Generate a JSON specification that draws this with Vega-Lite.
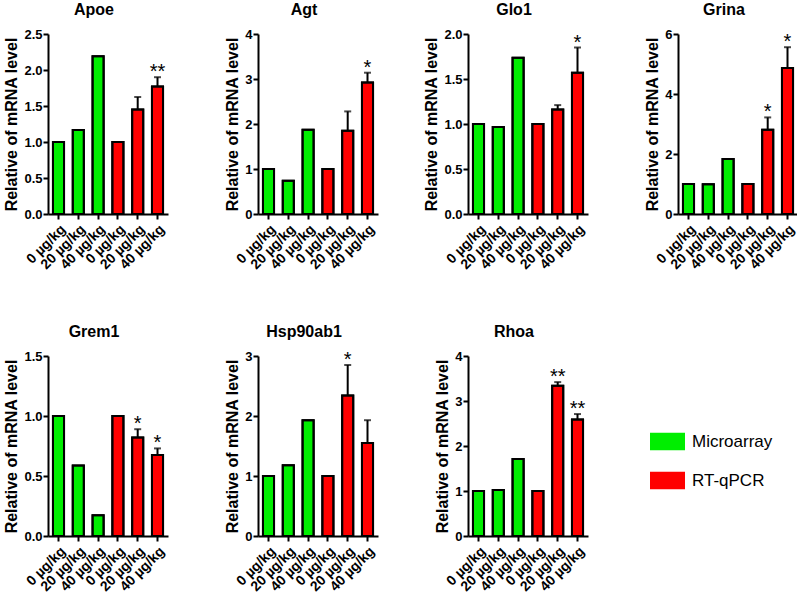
{
  "$schema": "https://vega.github.io/schema/vega-lite/v6.json",
  "padding": {"left": 3, "top": 2, "right": 0, "bottom": 0},
  "data": {"values": [
    {"gene": "Apoe", "method": "Microarray", "cond": "M-0 µg/kg", "value": 1.0, "upper": null, "sig": ""},
    {"gene": "Apoe", "method": "Microarray", "cond": "M-20 µg/kg", "value": 1.165, "upper": null, "sig": ""},
    {"gene": "Apoe", "method": "Microarray", "cond": "M-40 µg/kg", "value": 2.19, "upper": null, "sig": ""},
    {"gene": "Apoe", "method": "RT-qPCR", "cond": "R-0 µg/kg", "value": 1.0, "upper": null, "sig": ""},
    {"gene": "Apoe", "method": "RT-qPCR", "cond": "R-20 µg/kg", "value": 1.45, "upper": 1.625, "sig": ""},
    {"gene": "Apoe", "method": "RT-qPCR", "cond": "R-40 µg/kg", "value": 1.77, "upper": 1.9, "sig": "**"},
    {"gene": "Agt", "method": "Microarray", "cond": "M-0 µg/kg", "value": 1.0, "upper": null, "sig": ""},
    {"gene": "Agt", "method": "Microarray", "cond": "M-20 µg/kg", "value": 0.74, "upper": null, "sig": ""},
    {"gene": "Agt", "method": "Microarray", "cond": "M-40 µg/kg", "value": 1.87, "upper": null, "sig": ""},
    {"gene": "Agt", "method": "RT-qPCR", "cond": "R-0 µg/kg", "value": 1.0, "upper": null, "sig": ""},
    {"gene": "Agt", "method": "RT-qPCR", "cond": "R-20 µg/kg", "value": 1.85, "upper": 2.28, "sig": ""},
    {"gene": "Agt", "method": "RT-qPCR", "cond": "R-40 µg/kg", "value": 2.92, "upper": 3.14, "sig": "*"},
    {"gene": "Glo1", "method": "Microarray", "cond": "M-0 µg/kg", "value": 1.0, "upper": null, "sig": ""},
    {"gene": "Glo1", "method": "Microarray", "cond": "M-20 µg/kg", "value": 0.967, "upper": null, "sig": ""},
    {"gene": "Glo1", "method": "Microarray", "cond": "M-40 µg/kg", "value": 1.736, "upper": null, "sig": ""},
    {"gene": "Glo1", "method": "RT-qPCR", "cond": "R-0 µg/kg", "value": 1.0, "upper": null, "sig": ""},
    {"gene": "Glo1", "method": "RT-qPCR", "cond": "R-20 µg/kg", "value": 1.16, "upper": 1.21, "sig": ""},
    {"gene": "Glo1", "method": "RT-qPCR", "cond": "R-40 µg/kg", "value": 1.57, "upper": 1.85, "sig": "*"},
    {"gene": "Grina", "method": "Microarray", "cond": "M-0 µg/kg", "value": 1.0, "upper": null, "sig": ""},
    {"gene": "Grina", "method": "Microarray", "cond": "M-20 µg/kg", "value": 0.99, "upper": null, "sig": ""},
    {"gene": "Grina", "method": "Microarray", "cond": "M-40 µg/kg", "value": 1.83, "upper": null, "sig": ""},
    {"gene": "Grina", "method": "RT-qPCR", "cond": "R-0 µg/kg", "value": 1.0, "upper": null, "sig": ""},
    {"gene": "Grina", "method": "RT-qPCR", "cond": "R-20 µg/kg", "value": 2.81, "upper": 3.22, "sig": "*"},
    {"gene": "Grina", "method": "RT-qPCR", "cond": "R-40 µg/kg", "value": 4.87, "upper": 5.56, "sig": "*"},
    {"gene": "Grem1", "method": "Microarray", "cond": "M-0 µg/kg", "value": 1.0, "upper": null, "sig": ""},
    {"gene": "Grem1", "method": "Microarray", "cond": "M-20 µg/kg", "value": 0.588, "upper": null, "sig": ""},
    {"gene": "Grem1", "method": "Microarray", "cond": "M-40 µg/kg", "value": 0.173, "upper": null, "sig": ""},
    {"gene": "Grem1", "method": "RT-qPCR", "cond": "R-0 µg/kg", "value": 1.0, "upper": null, "sig": ""},
    {"gene": "Grem1", "method": "RT-qPCR", "cond": "R-20 µg/kg", "value": 0.82, "upper": 0.89, "sig": "*"},
    {"gene": "Grem1", "method": "RT-qPCR", "cond": "R-40 µg/kg", "value": 0.675, "upper": 0.73, "sig": "*"},
    {"gene": "Hsp90ab1", "method": "Microarray", "cond": "M-0 µg/kg", "value": 1.0, "upper": null, "sig": ""},
    {"gene": "Hsp90ab1", "method": "Microarray", "cond": "M-20 µg/kg", "value": 1.18, "upper": null, "sig": ""},
    {"gene": "Hsp90ab1", "method": "Microarray", "cond": "M-40 µg/kg", "value": 1.93, "upper": null, "sig": ""},
    {"gene": "Hsp90ab1", "method": "RT-qPCR", "cond": "R-0 µg/kg", "value": 1.0, "upper": null, "sig": ""},
    {"gene": "Hsp90ab1", "method": "RT-qPCR", "cond": "R-20 µg/kg", "value": 2.34, "upper": 2.85, "sig": "*"},
    {"gene": "Hsp90ab1", "method": "RT-qPCR", "cond": "R-40 µg/kg", "value": 1.55, "upper": 1.93, "sig": ""},
    {"gene": "Rhoa", "method": "Microarray", "cond": "M-0 µg/kg", "value": 1.0, "upper": null, "sig": ""},
    {"gene": "Rhoa", "method": "Microarray", "cond": "M-20 µg/kg", "value": 1.02, "upper": null, "sig": ""},
    {"gene": "Rhoa", "method": "Microarray", "cond": "M-40 µg/kg", "value": 1.71, "upper": null, "sig": ""},
    {"gene": "Rhoa", "method": "RT-qPCR", "cond": "R-0 µg/kg", "value": 1.0, "upper": null, "sig": ""},
    {"gene": "Rhoa", "method": "RT-qPCR", "cond": "R-20 µg/kg", "value": 3.34, "upper": 3.42, "sig": "**"},
    {"gene": "Rhoa", "method": "RT-qPCR", "cond": "R-40 µg/kg", "value": 2.59, "upper": 2.71, "sig": "**"}
  ]},
  "columns": 4,
  "spacing": {"row": 142, "column": 90},
  "bounds": "flush",
  "resolve": {"scale": {"fill": "shared"}},
  "concat": [
    {"title": "Apoe", "width": 120, "height": 180,
     "transform": [{"filter": "datum.gene === 'Apoe'"}],
     "encoding": {"x": {"field": "cond", "type": "nominal", "sort": ["M-0 µg/kg", "M-20 µg/kg", "M-40 µg/kg", "R-0 µg/kg", "R-20 µg/kg", "R-40 µg/kg"], "scale": {"paddingInner": 0.44, "paddingOuter": 0.25}, "axis": {"title": null, "labelExpr": "substring(datum.value, 2)"}}},
     "layer": [
       {"mark": {"type": "bar", "filled": true, "stroke": "black", "strokeWidth": 2},
        "encoding": {"y": {"field": "value", "type": "quantitative", "title": "Relative of mRNA level", "scale": {"domain": [0, 2.5], "nice": false}, "axis": {"values": [0, 0.5, 1, 1.5, 2, 2.5], "format": ".1f"}},
                     "fill": {"field": "method", "type": "nominal", "title": null, "scale": {"domain": ["Microarray", "RT-qPCR"], "range": ["#00ee00", "#ff0000"]}}}},
       {"mark": {"type": "bar", "filled": false, "stroke": "black", "strokeWidth": 2},
        "encoding": {"y": {"field": "value", "type": "quantitative", "title": "Relative of mRNA level", "scale": {"domain": [0, 2.5], "nice": false}, "axis": {"values": [0, 0.5, 1, 1.5, 2, 2.5], "format": ".1f"}}}},
       {"transform": [{"filter": "isValid(datum.upper)"}], "mark": {"type": "rule", "color": "black", "strokeWidth": 2},
        "encoding": {"y": {"field": "value", "type": "quantitative", "title": "Relative of mRNA level", "scale": {"domain": [0, 2.5], "nice": false}, "axis": {"values": [0, 0.5, 1, 1.5, 2, 2.5], "format": ".1f"}}, "y2": {"field": "upper"}}},
       {"transform": [{"filter": "isValid(datum.upper)"}], "mark": {"type": "tick", "color": "black", "thickness": 2, "size": 7},
        "encoding": {"y": {"field": "upper", "type": "quantitative", "title": "Relative of mRNA level", "scale": {"domain": [0, 2.5], "nice": false}, "axis": {"values": [0, 0.5, 1, 1.5, 2, 2.5], "format": ".1f"}}}},
       {"transform": [{"filter": "datum.sig !== ''"}], "mark": {"type": "text", "fontSize": 20, "baseline": "alphabetic", "dy": 1, "color": "black"},
        "encoding": {"y": {"field": "upper", "type": "quantitative", "title": "Relative of mRNA level", "scale": {"domain": [0, 2.5], "nice": false}, "axis": {"values": [0, 0.5, 1, 1.5, 2, 2.5], "format": ".1f"}}, "text": {"field": "sig"}}}
     ]},
    {"title": "Agt", "width": 120, "height": 180,
     "transform": [{"filter": "datum.gene === 'Agt'"}],
     "encoding": {"x": {"field": "cond", "type": "nominal", "sort": ["M-0 µg/kg", "M-20 µg/kg", "M-40 µg/kg", "R-0 µg/kg", "R-20 µg/kg", "R-40 µg/kg"], "scale": {"paddingInner": 0.44, "paddingOuter": 0.25}, "axis": {"title": null, "labelExpr": "substring(datum.value, 2)"}}},
     "layer": [
       {"mark": {"type": "bar", "filled": true, "stroke": "black", "strokeWidth": 2},
        "encoding": {"y": {"field": "value", "type": "quantitative", "title": "Relative of mRNA level", "scale": {"domain": [0, 4], "nice": false}, "axis": {"values": [0, 1, 2, 3, 4], "format": "d"}},
                     "fill": {"field": "method", "type": "nominal", "title": null, "scale": {"domain": ["Microarray", "RT-qPCR"], "range": ["#00ee00", "#ff0000"]}}}},
       {"mark": {"type": "bar", "filled": false, "stroke": "black", "strokeWidth": 2},
        "encoding": {"y": {"field": "value", "type": "quantitative", "title": "Relative of mRNA level", "scale": {"domain": [0, 4], "nice": false}, "axis": {"values": [0, 1, 2, 3, 4], "format": "d"}}}},
       {"transform": [{"filter": "isValid(datum.upper)"}], "mark": {"type": "rule", "color": "black", "strokeWidth": 2},
        "encoding": {"y": {"field": "value", "type": "quantitative", "title": "Relative of mRNA level", "scale": {"domain": [0, 4], "nice": false}, "axis": {"values": [0, 1, 2, 3, 4], "format": "d"}}, "y2": {"field": "upper"}}},
       {"transform": [{"filter": "isValid(datum.upper)"}], "mark": {"type": "tick", "color": "black", "thickness": 2, "size": 7},
        "encoding": {"y": {"field": "upper", "type": "quantitative", "title": "Relative of mRNA level", "scale": {"domain": [0, 4], "nice": false}, "axis": {"values": [0, 1, 2, 3, 4], "format": "d"}}}},
       {"transform": [{"filter": "datum.sig !== ''"}], "mark": {"type": "text", "fontSize": 20, "baseline": "alphabetic", "dy": 1, "color": "black"},
        "encoding": {"y": {"field": "upper", "type": "quantitative", "title": "Relative of mRNA level", "scale": {"domain": [0, 4], "nice": false}, "axis": {"values": [0, 1, 2, 3, 4], "format": "d"}}, "text": {"field": "sig"}}}
     ]},
    {"title": "Glo1", "width": 120, "height": 180,
     "transform": [{"filter": "datum.gene === 'Glo1'"}],
     "encoding": {"x": {"field": "cond", "type": "nominal", "sort": ["M-0 µg/kg", "M-20 µg/kg", "M-40 µg/kg", "R-0 µg/kg", "R-20 µg/kg", "R-40 µg/kg"], "scale": {"paddingInner": 0.44, "paddingOuter": 0.25}, "axis": {"title": null, "labelExpr": "substring(datum.value, 2)"}}},
     "layer": [
       {"mark": {"type": "bar", "filled": true, "stroke": "black", "strokeWidth": 2},
        "encoding": {"y": {"field": "value", "type": "quantitative", "title": "Relative of mRNA level", "scale": {"domain": [0, 2], "nice": false}, "axis": {"values": [0, 0.5, 1, 1.5, 2], "format": ".1f"}},
                     "fill": {"field": "method", "type": "nominal", "title": null, "scale": {"domain": ["Microarray", "RT-qPCR"], "range": ["#00ee00", "#ff0000"]}}}},
       {"mark": {"type": "bar", "filled": false, "stroke": "black", "strokeWidth": 2},
        "encoding": {"y": {"field": "value", "type": "quantitative", "title": "Relative of mRNA level", "scale": {"domain": [0, 2], "nice": false}, "axis": {"values": [0, 0.5, 1, 1.5, 2], "format": ".1f"}}}},
       {"transform": [{"filter": "isValid(datum.upper)"}], "mark": {"type": "rule", "color": "black", "strokeWidth": 2},
        "encoding": {"y": {"field": "value", "type": "quantitative", "title": "Relative of mRNA level", "scale": {"domain": [0, 2], "nice": false}, "axis": {"values": [0, 0.5, 1, 1.5, 2], "format": ".1f"}}, "y2": {"field": "upper"}}},
       {"transform": [{"filter": "isValid(datum.upper)"}], "mark": {"type": "tick", "color": "black", "thickness": 2, "size": 7},
        "encoding": {"y": {"field": "upper", "type": "quantitative", "title": "Relative of mRNA level", "scale": {"domain": [0, 2], "nice": false}, "axis": {"values": [0, 0.5, 1, 1.5, 2], "format": ".1f"}}}},
       {"transform": [{"filter": "datum.sig !== ''"}], "mark": {"type": "text", "fontSize": 20, "baseline": "alphabetic", "dy": 1, "color": "black"},
        "encoding": {"y": {"field": "upper", "type": "quantitative", "title": "Relative of mRNA level", "scale": {"domain": [0, 2], "nice": false}, "axis": {"values": [0, 0.5, 1, 1.5, 2], "format": ".1f"}}, "text": {"field": "sig"}}}
     ]},
    {"title": "Grina", "width": 120, "height": 180,
     "transform": [{"filter": "datum.gene === 'Grina'"}],
     "encoding": {"x": {"field": "cond", "type": "nominal", "sort": ["M-0 µg/kg", "M-20 µg/kg", "M-40 µg/kg", "R-0 µg/kg", "R-20 µg/kg", "R-40 µg/kg"], "scale": {"paddingInner": 0.44, "paddingOuter": 0.25}, "axis": {"title": null, "labelExpr": "substring(datum.value, 2)"}}},
     "layer": [
       {"mark": {"type": "bar", "filled": true, "stroke": "black", "strokeWidth": 2},
        "encoding": {"y": {"field": "value", "type": "quantitative", "title": "Relative of mRNA level", "scale": {"domain": [0, 6], "nice": false}, "axis": {"values": [0, 2, 4, 6], "format": "d"}},
                     "fill": {"field": "method", "type": "nominal", "title": null, "scale": {"domain": ["Microarray", "RT-qPCR"], "range": ["#00ee00", "#ff0000"]}}}},
       {"mark": {"type": "bar", "filled": false, "stroke": "black", "strokeWidth": 2},
        "encoding": {"y": {"field": "value", "type": "quantitative", "title": "Relative of mRNA level", "scale": {"domain": [0, 6], "nice": false}, "axis": {"values": [0, 2, 4, 6], "format": "d"}}}},
       {"transform": [{"filter": "isValid(datum.upper)"}], "mark": {"type": "rule", "color": "black", "strokeWidth": 2},
        "encoding": {"y": {"field": "value", "type": "quantitative", "title": "Relative of mRNA level", "scale": {"domain": [0, 6], "nice": false}, "axis": {"values": [0, 2, 4, 6], "format": "d"}}, "y2": {"field": "upper"}}},
       {"transform": [{"filter": "isValid(datum.upper)"}], "mark": {"type": "tick", "color": "black", "thickness": 2, "size": 7},
        "encoding": {"y": {"field": "upper", "type": "quantitative", "title": "Relative of mRNA level", "scale": {"domain": [0, 6], "nice": false}, "axis": {"values": [0, 2, 4, 6], "format": "d"}}}},
       {"transform": [{"filter": "datum.sig !== ''"}], "mark": {"type": "text", "fontSize": 20, "baseline": "alphabetic", "dy": 1, "color": "black"},
        "encoding": {"y": {"field": "upper", "type": "quantitative", "title": "Relative of mRNA level", "scale": {"domain": [0, 6], "nice": false}, "axis": {"values": [0, 2, 4, 6], "format": "d"}}, "text": {"field": "sig"}}}
     ]},
    {"title": "Grem1", "width": 120, "height": 180,
     "transform": [{"filter": "datum.gene === 'Grem1'"}],
     "encoding": {"x": {"field": "cond", "type": "nominal", "sort": ["M-0 µg/kg", "M-20 µg/kg", "M-40 µg/kg", "R-0 µg/kg", "R-20 µg/kg", "R-40 µg/kg"], "scale": {"paddingInner": 0.44, "paddingOuter": 0.25}, "axis": {"title": null, "labelExpr": "substring(datum.value, 2)"}}},
     "layer": [
       {"mark": {"type": "bar", "filled": true, "stroke": "black", "strokeWidth": 2},
        "encoding": {"y": {"field": "value", "type": "quantitative", "title": "Relative of mRNA level", "scale": {"domain": [0, 1.5], "nice": false}, "axis": {"values": [0, 0.5, 1, 1.5], "format": ".1f"}},
                     "fill": {"field": "method", "type": "nominal", "title": null, "scale": {"domain": ["Microarray", "RT-qPCR"], "range": ["#00ee00", "#ff0000"]}}}},
       {"mark": {"type": "bar", "filled": false, "stroke": "black", "strokeWidth": 2},
        "encoding": {"y": {"field": "value", "type": "quantitative", "title": "Relative of mRNA level", "scale": {"domain": [0, 1.5], "nice": false}, "axis": {"values": [0, 0.5, 1, 1.5], "format": ".1f"}}}},
       {"transform": [{"filter": "isValid(datum.upper)"}], "mark": {"type": "rule", "color": "black", "strokeWidth": 2},
        "encoding": {"y": {"field": "value", "type": "quantitative", "title": "Relative of mRNA level", "scale": {"domain": [0, 1.5], "nice": false}, "axis": {"values": [0, 0.5, 1, 1.5], "format": ".1f"}}, "y2": {"field": "upper"}}},
       {"transform": [{"filter": "isValid(datum.upper)"}], "mark": {"type": "tick", "color": "black", "thickness": 2, "size": 7},
        "encoding": {"y": {"field": "upper", "type": "quantitative", "title": "Relative of mRNA level", "scale": {"domain": [0, 1.5], "nice": false}, "axis": {"values": [0, 0.5, 1, 1.5], "format": ".1f"}}}},
       {"transform": [{"filter": "datum.sig !== ''"}], "mark": {"type": "text", "fontSize": 20, "baseline": "alphabetic", "dy": 1, "color": "black"},
        "encoding": {"y": {"field": "upper", "type": "quantitative", "title": "Relative of mRNA level", "scale": {"domain": [0, 1.5], "nice": false}, "axis": {"values": [0, 0.5, 1, 1.5], "format": ".1f"}}, "text": {"field": "sig"}}}
     ]},
    {"title": "Hsp90ab1", "width": 120, "height": 180,
     "transform": [{"filter": "datum.gene === 'Hsp90ab1'"}],
     "encoding": {"x": {"field": "cond", "type": "nominal", "sort": ["M-0 µg/kg", "M-20 µg/kg", "M-40 µg/kg", "R-0 µg/kg", "R-20 µg/kg", "R-40 µg/kg"], "scale": {"paddingInner": 0.44, "paddingOuter": 0.25}, "axis": {"title": null, "labelExpr": "substring(datum.value, 2)"}}},
     "layer": [
       {"mark": {"type": "bar", "filled": true, "stroke": "black", "strokeWidth": 2},
        "encoding": {"y": {"field": "value", "type": "quantitative", "title": "Relative of mRNA level", "scale": {"domain": [0, 3], "nice": false}, "axis": {"values": [0, 1, 2, 3], "format": "d"}},
                     "fill": {"field": "method", "type": "nominal", "title": null, "scale": {"domain": ["Microarray", "RT-qPCR"], "range": ["#00ee00", "#ff0000"]}}}},
       {"mark": {"type": "bar", "filled": false, "stroke": "black", "strokeWidth": 2},
        "encoding": {"y": {"field": "value", "type": "quantitative", "title": "Relative of mRNA level", "scale": {"domain": [0, 3], "nice": false}, "axis": {"values": [0, 1, 2, 3], "format": "d"}}}},
       {"transform": [{"filter": "isValid(datum.upper)"}], "mark": {"type": "rule", "color": "black", "strokeWidth": 2},
        "encoding": {"y": {"field": "value", "type": "quantitative", "title": "Relative of mRNA level", "scale": {"domain": [0, 3], "nice": false}, "axis": {"values": [0, 1, 2, 3], "format": "d"}}, "y2": {"field": "upper"}}},
       {"transform": [{"filter": "isValid(datum.upper)"}], "mark": {"type": "tick", "color": "black", "thickness": 2, "size": 7},
        "encoding": {"y": {"field": "upper", "type": "quantitative", "title": "Relative of mRNA level", "scale": {"domain": [0, 3], "nice": false}, "axis": {"values": [0, 1, 2, 3], "format": "d"}}}},
       {"transform": [{"filter": "datum.sig !== ''"}], "mark": {"type": "text", "fontSize": 20, "baseline": "alphabetic", "dy": 1, "color": "black"},
        "encoding": {"y": {"field": "upper", "type": "quantitative", "title": "Relative of mRNA level", "scale": {"domain": [0, 3], "nice": false}, "axis": {"values": [0, 1, 2, 3], "format": "d"}}, "text": {"field": "sig"}}}
     ]},
    {"title": "Rhoa", "width": 120, "height": 180,
     "transform": [{"filter": "datum.gene === 'Rhoa'"}],
     "encoding": {"x": {"field": "cond", "type": "nominal", "sort": ["M-0 µg/kg", "M-20 µg/kg", "M-40 µg/kg", "R-0 µg/kg", "R-20 µg/kg", "R-40 µg/kg"], "scale": {"paddingInner": 0.44, "paddingOuter": 0.25}, "axis": {"title": null, "labelExpr": "substring(datum.value, 2)"}}},
     "layer": [
       {"mark": {"type": "bar", "filled": true, "stroke": "black", "strokeWidth": 2},
        "encoding": {"y": {"field": "value", "type": "quantitative", "title": "Relative of mRNA level", "scale": {"domain": [0, 4], "nice": false}, "axis": {"values": [0, 1, 2, 3, 4], "format": "d"}},
                     "fill": {"field": "method", "type": "nominal", "title": null, "scale": {"domain": ["Microarray", "RT-qPCR"], "range": ["#00ee00", "#ff0000"]}}}},
       {"mark": {"type": "bar", "filled": false, "stroke": "black", "strokeWidth": 2},
        "encoding": {"y": {"field": "value", "type": "quantitative", "title": "Relative of mRNA level", "scale": {"domain": [0, 4], "nice": false}, "axis": {"values": [0, 1, 2, 3, 4], "format": "d"}}}},
       {"transform": [{"filter": "isValid(datum.upper)"}], "mark": {"type": "rule", "color": "black", "strokeWidth": 2},
        "encoding": {"y": {"field": "value", "type": "quantitative", "title": "Relative of mRNA level", "scale": {"domain": [0, 4], "nice": false}, "axis": {"values": [0, 1, 2, 3, 4], "format": "d"}}, "y2": {"field": "upper"}}},
       {"transform": [{"filter": "isValid(datum.upper)"}], "mark": {"type": "tick", "color": "black", "thickness": 2, "size": 7},
        "encoding": {"y": {"field": "upper", "type": "quantitative", "title": "Relative of mRNA level", "scale": {"domain": [0, 4], "nice": false}, "axis": {"values": [0, 1, 2, 3, 4], "format": "d"}}}},
       {"transform": [{"filter": "datum.sig !== ''"}], "mark": {"type": "text", "fontSize": 20, "baseline": "alphabetic", "dy": 1, "color": "black"},
        "encoding": {"y": {"field": "upper", "type": "quantitative", "title": "Relative of mRNA level", "scale": {"domain": [0, 4], "nice": false}, "axis": {"values": [0, 1, 2, 3, 4], "format": "d"}}, "text": {"field": "sig"}}}
     ]}
  ],
  "config": {
    "font": "Liberation Sans",
    "view": {"stroke": null},
    "axis": {"domainColor": "black", "domainWidth": 2, "tickColor": "black", "tickWidth": 2, "tickSize": 5, "labelColor": "black", "labelFontWeight": "bold", "labelFontSize": 13, "titleColor": "black", "titleFontWeight": "bold", "titleFontSize": 16, "grid": false, "labelPadding": 1, "labelOverlap": false, "labelBound": false},
    "axisX": {"labelAngle": -45, "labelFontSize": 14, "labelPadding": 3},
    "axisY": {"titlePadding": 4},
    "title": {"fontSize": 16, "fontWeight": "bold", "color": "black", "anchor": "middle", "frame": "group", "dx": -14, "offset": 10, "baseline": "alphabetic"},
    "legend": {"orient": "none", "legendX": 602, "legendY": 390, "symbolType": "M-1,-0.5H1V0.5H-1Z", "symbolSize": 1225, "symbolStrokeWidth": 0, "symbolOpacity": 1, "labelFontSize": 17, "labelColor": "black", "labelOffset": 7, "rowPadding": 12, "padding": 0}
  }
}
